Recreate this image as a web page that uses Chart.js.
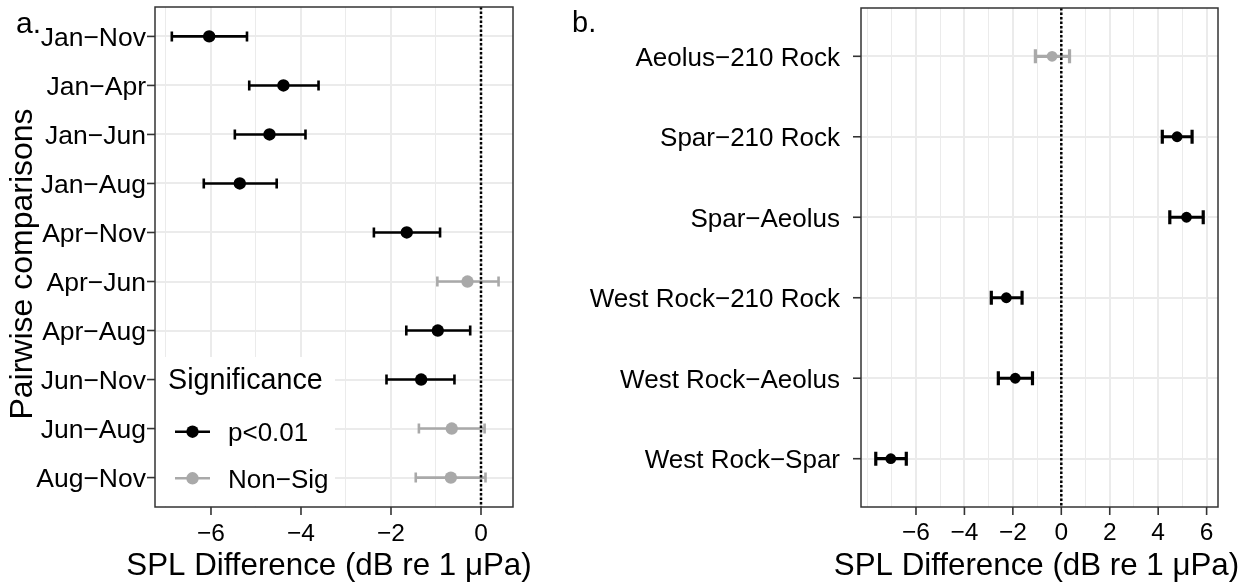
<!DOCTYPE html>
<html>
<head>
<meta charset="utf-8">
<script src="https://cdn.jsdelivr.net/npm/chart.js@4/dist/chart.umd.min.js"></script>
<style>
html,body{margin:0;padding:0;background:#ffffff;}
#wrap{position:relative;width:1252px;height:588px;overflow:hidden;background:#ffffff;}
canvas{position:absolute;top:0;}
</style>
</head>
<body>
<div id="wrap">
<canvas id="ca" width="560" height="588" style="left:0;width:560px;height:588px"></canvas>
<canvas id="cb" width="692" height="588" style="left:560px;width:692px;height:588px"></canvas>
</div>
<script>
// ---------- Panel a data ----------
const catsA = ['Jan\u2212Nov','Jan\u2212Apr','Jan\u2212Jun','Jan\u2212Aug','Apr\u2212Nov','Apr\u2212Jun','Apr\u2212Aug','Jun\u2212Nov','Jun\u2212Aug','Aug\u2212Nov'];
const estA  = [-6.04, -4.39, -4.70, -5.36, -1.65, -0.30, -0.96, -1.33, -0.65, -0.67];
const lowA  = [-6.87, -5.15, -5.47, -6.16, -2.38, -0.97, -1.66, -2.10, -1.38, -1.45];
const highA = [-5.20, -3.61, -3.90, -4.54, -0.91,  0.39, -0.24, -0.59,  0.08,  0.10];
const sigA  = [1, 1, 1, 1, 1, 0, 1, 1, 0, 0];
const xTicksA = [-6, -4, -2, 0];
const xTickLabelsA = ['\u22126', '\u22124', '\u22122', '0'];
const xMinorA = [-7, -5, -3, -1];

// ---------- Panel b data ----------
const catsB = ['Aeolus\u2212210 Rock','Spar\u2212210 Rock','Spar\u2212Aeolus','West Rock\u2212210 Rock','West Rock\u2212Aeolus','West Rock\u2212Spar'];
const estB  = [-0.38, 4.78, 5.17, -2.27, -1.90, -7.04];
const lowB  = [-1.07, 4.17, 4.48, -2.89, -2.60, -7.66];
const highB = [ 0.34, 5.40, 5.86, -1.62, -1.19, -6.40];
const sigB  = [0, 1, 1, 1, 1, 1];
const xTicksB = [-6, -4, -2, 0, 2, 4, 6];
const xTickLabelsB = ['\u22126', '\u22124', '\u22122', '0', '2', '4', '6'];
const xMinorB = [-8, -7, -5, -3, -1, 1, 3, 5];

const legendTitle = 'Significance';
const legendLabels = ['p<0.01', 'Non\u2212Sig'];
const xTitle = 'SPL Difference (dB re 1 \u03bcPa)';
const yTitleA = 'Pairwise comparisons';

const FONT = '"Liberation Sans", Arial, Helvetica, sans-serif';
const BLACK = '#000000', GREY = '#A9A9A9', GRID = '#EBEBEB', AXIS = '#333333';

function txt(ctx, s, x, y, size, align, rot) {
  ctx.save();
  ctx.translate(x, y);
  if (rot) ctx.rotate(rot);
  ctx.font = size + 'px ' + FONT;
  ctx.fillStyle = '#000000';
  ctx.textAlign = align || 'left';
  ctx.textBaseline = 'alphabetic';
  ctx.fillText(s, 0, 0);
  ctx.restore();
}

function panel(canvasId, cfg) {
  const overlay = {
    id: 'overlay_' + canvasId,
    beforeDatasetsDraw(chart) {
      const ctx = chart.ctx, xs = chart.scales.x, ys = chart.scales.y;
      ctx.save();
      cfg.low.forEach((lo, i) => {
        const hi = cfg.high[i];
        const y = ys.getPixelForValue(i + 1);
        const x1 = xs.getPixelForValue(lo), x2 = xs.getPixelForValue(hi);
        ctx.strokeStyle = cfg.sig[i] ? BLACK : GREY;
        ctx.lineWidth = cfg.barW;
        ctx.lineCap = 'butt';
        ctx.beginPath();
        ctx.moveTo(x1, y); ctx.lineTo(x2, y);
        ctx.moveTo(x1, y - cfg.capH); ctx.lineTo(x1, y + cfg.capH);
        ctx.moveTo(x2, y - cfg.capH); ctx.lineTo(x2, y + cfg.capH);
        ctx.stroke();
      });
      ctx.restore();
    },
    afterDatasetsDraw(chart) {
      const ctx = chart.ctx, xs = chart.scales.x, ys = chart.scales.y, a = chart.chartArea;
      // dotted zero line
      const x0 = xs.getPixelForValue(0);
      ctx.save();
      ctx.strokeStyle = BLACK; ctx.lineWidth = 2.5; ctx.setLineDash([2.5, 2]);
      ctx.beginPath(); ctx.moveTo(x0, a.top); ctx.lineTo(x0, a.bottom); ctx.stroke();
      ctx.restore();
      // legend
      if (cfg.legend) {
        const L = cfg.legend;
        ctx.save();
        ctx.fillStyle = '#ffffff';
        ctx.fillRect(L.x, L.y, L.w, L.h);
        ctx.restore();
        txt(ctx, legendTitle, L.titleX, L.titleY, L.titleSize, 'left');
        legendLabels.forEach((lab, k) => {
          const cy = L.rows[k];
          const col = k === 0 ? BLACK : GREY;
          ctx.save();
          ctx.strokeStyle = col; ctx.lineWidth = cfg.barW;
          ctx.beginPath(); ctx.moveTo(L.keyX1, cy); ctx.lineTo(L.keyX2, cy); ctx.stroke();
          ctx.fillStyle = col;
          ctx.beginPath(); ctx.arc((L.keyX1 + L.keyX2) / 2, cy, cfg.ptR, 0, Math.PI * 2); ctx.fill();
          ctx.restore();
          txt(ctx, lab, L.textX, cy + 0.36 * L.textSize, L.textSize, 'left');
        });
      }
      // panel border
      ctx.save();
      ctx.strokeStyle = AXIS; ctx.lineWidth = 1.5;
      ctx.strokeRect(a.left, a.top, a.right - a.left, a.bottom - a.top);
      // x ticks
      cfg.xTicks.forEach((v, k) => {
        const px = xs.getPixelForValue(v);
        ctx.strokeStyle = AXIS; ctx.lineWidth = 1.6;
        ctx.beginPath(); ctx.moveTo(px, a.bottom); ctx.lineTo(px, a.bottom + 8); ctx.stroke();
        txt(ctx, cfg.xTickLabels[k], px, cfg.xLabBase, cfg.xLabSize, 'center');
      });
      // y ticks
      cfg.cats.forEach((c, i) => {
        const py = ys.getPixelForValue(i + 1);
        ctx.strokeStyle = AXIS; ctx.lineWidth = 1.6;
        ctx.beginPath(); ctx.moveTo(a.left - 8, py); ctx.lineTo(a.left, py); ctx.stroke();
        txt(ctx, c, cfg.yLabRight, py + 0.36 * cfg.yLabSize, cfg.yLabSize, 'right');
      });
      ctx.restore();
      // titles
      txt(ctx, xTitle, (a.left + a.right) / 2 + cfg.xTitleShift, cfg.xTitleBase, cfg.xTitleSize, 'center');
      if (cfg.yTitle) txt(ctx, cfg.yTitle, cfg.yTitleX, cfg.yTitleY, cfg.yTitleSize, 'center', -Math.PI / 2);
      txt(ctx, cfg.tag, cfg.tagX, cfg.tagY, cfg.tagSize, 'left');
    }
  };
  const gridVals = cfg.xMinor.concat(cfg.xTicks).sort((p, q) => p - q);
  return new Chart(document.getElementById(canvasId), {
    type: 'scatter',
    data: {
      datasets: [{
        data: cfg.est.map((v, i) => ({x: v, y: i + 1})),
        pointRadius: cfg.ptR,
        pointHoverRadius: cfg.ptR,
        pointBorderWidth: 0,
        borderColor: 'rgba(0,0,0,0)',
        backgroundColor: cfg.sig.map(s => s ? BLACK : GREY),
        pointBackgroundColor: cfg.sig.map(s => s ? BLACK : GREY)
      }]
    },
    options: {
      responsive: false,
      animation: false,
      events: [],
      layout: {padding: cfg.pad},
      plugins: {legend: {display: false}, tooltip: {enabled: false}},
      scales: {
        x: {
          type: 'linear', min: cfg.xmin, max: cfg.xmax,
          afterBuildTicks: s => { s.ticks = gridVals.map(v => ({value: v})); },
          ticks: {display: false},
          border: {display: false},
          grid: {drawTicks: false, color: GRID, lineWidth: c => (c.tick && cfg.xTicks.includes(c.tick.value)) ? 2 : 1}
        },
        y: {
          type: 'linear', reverse: true, min: 0.4, max: cfg.cats.length + 0.6,
          afterBuildTicks: s => { s.ticks = cfg.cats.map((_, i) => ({value: i + 1})); },
          ticks: {display: false},
          border: {display: false},
          grid: {drawTicks: false, color: GRID, lineWidth: 2}
        }
      }
    },
    plugins: [overlay]
  });
}

panel('ca', {
  cats: catsA, est: estA, low: lowA, high: highA, sig: sigA,
  xTicks: xTicksA, xTickLabels: xTickLabelsA, xMinor: xMinorA,
  xmin: -7.244, xmax: 0.711,
  pad: {left: 155, right: 47, top: 7, bottom: 81},
  ptR: 6.2, barW: 2.6, capH: 5,
  xLabBase: 541, xLabSize: 24.5,
  yLabRight: 146, yLabSize: 26.5,
  xTitleBase: 575, xTitleSize: 31.3, xTitleShift: -5,
  yTitle: yTitleA, yTitleX: 32, yTitleY: 264, yTitleSize: 32,
  tag: 'a.', tagX: 16, tagY: 33, tagSize: 30,
  legend: {x: 156, y: 357, w: 179, h: 149, titleX: 168, titleY: 389, titleSize: 28.7,
           rows: [431.7, 478.3], keyX1: 175, keyX2: 210, textX: 228, textSize: 26}
});

panel('cb', {
  cats: catsB, est: estB, low: lowB, high: highB, sig: sigB,
  xTicks: xTicksB, xTickLabels: xTickLabelsB, xMinor: xMinorB,
  xmin: -8.27, xmax: 6.47,
  pad: {left: 301, right: 34, top: 8, bottom: 81},
  ptR: 5.4, barW: 3.2, capH: 7,
  xLabBase: 539.5, xLabSize: 24.5,
  yLabRight: 280, yLabSize: 26,
  xTitleBase: 575, xTitleSize: 31.3, xTitleShift: -3,
  yTitle: null,
  tag: 'b.', tagX: 12, tagY: 32, tagSize: 29,
  legend: null
});
</script>
</body>
</html>
